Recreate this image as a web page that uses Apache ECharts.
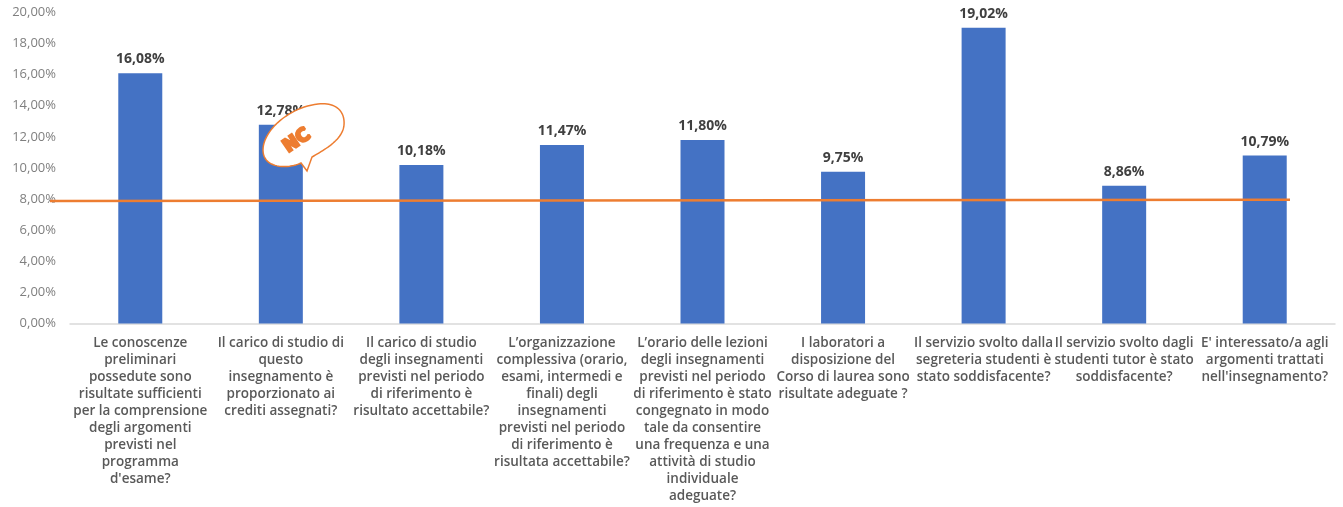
<!DOCTYPE html>
<html><head><meta charset="utf-8">
<style>html,body{margin:0;padding:0;background:#fff}#c{width:1343px;height:507px}</style>
<script src="https://cdn.jsdelivr.net/npm/echarts@6/dist/echarts.min.js"></script></head>
<body><div id="c"></div>
<script>
const categories = [
 "Le conoscenze\npreliminari\npossedute sono\nrisultate sufficienti\nper la comprensione\ndegli argomenti\nprevisti nel\nprogramma\nd'esame?",
 "Il carico di studio di\nquesto\ninsegnamento è\nproporzionato ai\ncrediti assegnati?",
 "Il carico di studio\ndegli insegnamenti\nprevisti nel periodo\ndi riferimento è\nrisultato accettabile?",
 "L’organizzazione\ncomplessiva (orario,\nesami, intermedi e\nfinali) degli\ninsegnamenti\nprevisti nel periodo\ndi riferimento è\nrisultata accettabile?",
 "L’orario delle lezioni\ndegli insegnamenti\nprevisti nel periodo\ndi riferimento è stato\ncongegnato in modo\ntale da consentire\nuna frequenza e una\nattività di studio\nindividuale\nadeguate?",
 "I laboratori a\ndisposizione del\nCorso di laurea sono\nrisultate adeguate ?",
 "Il servizio svolto dalla\nsegreteria studenti è\nstato soddisfacente?",
 "Il servizio svolto dagli\nstudenti tutor è stato\nsoddisfacente?",
 "E' interessato/a agli\nargomenti trattati\nnell'insegnamento?"
];
const values = [16.08,12.78,10.18,11.47,11.80,9.75,19.02,8.86,10.79];
const referenceLine = [7.87,7.95];
const fmt = v => v.toFixed(2).replace('.',',')+'%';
const font = '"Open Sans","Noto Sans",sans-serif';
const gridTop = 12.4, gridBottom = 183.6;
// outline of the hand-drawn speech-bubble stamp (annotation, not data)
const bubbleCurves = [
 [[3,47],[3,27],[30,4],[58,1]],
 [[58,1],[78,-1],[85,10],[84,22]],
 [[84,22],[83,36],[66,46],[52,54]],
 [[41,60],[28,66],[3,66],[3,47]]
];
function bubblePoints(){
 const pts=[];
 bubbleCurves.forEach((c,i)=>{
  for(let k=0;k<=24;k++){const t=k/24,u=1-t;
   pts.push([0,1].map(d=>u*u*u*c[0][d]+3*u*u*t*c[1][d]+3*u*t*t*c[2][d]+t*t*t*c[3][d]));}
  if(i===2) pts.push([47,68]);
 });
 return pts;
}
const chart = echarts.init(document.getElementById('c'),null,{renderer:'canvas'});
chart.setOption({
 animation:false,
 grid:[{left:70,right:8,top:gridTop,bottom:gridBottom},{left:50,width:1240,top:gridTop,bottom:gridBottom}],
 xAxis:[{type:'category',data:categories,gridIndex:0,
   axisTick:{show:false},axisLine:{lineStyle:{color:'#d9d9d9',width:1.5}},
   axisLabel:{interval:0,color:'#595959',fontFamily:font,fontWeight:600,fontSize:13.5,lineHeight:17,margin:11,align:'center',hideOverlap:false}},
  {type:'category',data:['a','b'],gridIndex:1,show:false,boundaryGap:false}],
 yAxis:[{type:'value',min:0,max:20,interval:2,gridIndex:0,splitLine:{show:false},axisLine:{show:false},axisTick:{show:false},
   axisLabel:{formatter:fmt,color:'#7f7f7f',fontFamily:font,fontSize:13,margin:14}},
  {type:'value',min:0,max:20,gridIndex:1,show:false}],
 series:[
  {type:'bar',data:values,barWidth:44,xAxisIndex:0,yAxisIndex:0,itemStyle:{color:'#4472c4'},
   label:{show:true,position:'top',distance:7,formatter:p=>fmt(p.value),color:'#404040',fontFamily:font,fontWeight:700,fontSize:14}},
  {type:'line',data:referenceLine,xAxisIndex:1,yAxisIndex:1,symbol:'none',lineStyle:{color:'#ed7d31',width:2.5},z:5}
 ],
 graphic:[
  {type:'group',x:260,y:103,silent:true,children:[
   {type:'polygon',z:100,shape:{points:bubblePoints()},style:{fill:'#fff',stroke:'#ed7d31',lineWidth:1.5}},
   {type:'text',z:101,x:37,y:38,rotation:0.6,style:{text:'NC',fill:'#ed7d31',font:'900 18px "DejaVu Sans"',align:'center',verticalAlign:'middle',stroke:'#ed7d31',lineWidth:2.5}}
  ]}
 ]
});
</script></body></html>
